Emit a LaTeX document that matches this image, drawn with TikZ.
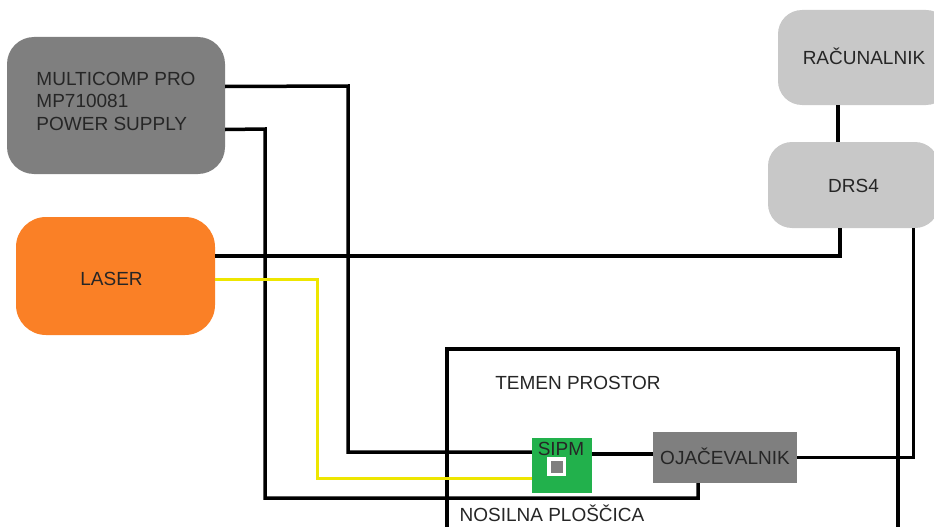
\documentclass[tikz,border=0pt]{standalone}
\usepackage{fontspec}
\setmainfont{Liberation Sans}

\definecolor{psugray}{RGB}{127,127,127}
\definecolor{pcgray}{RGB}{200,200,200}
\definecolor{laserorange}{RGB}{250,128,38}
\definecolor{boardgreen}{RGB}{34,177,76}
\definecolor{fibreyellow}{RGB}{238,230,0}

\begin{document}
\begin{tikzpicture}[
    x=1pt, y=-1pt,
    every node/.style={
        font=\fontsize{19}{22.5}\selectfont,
        text=black!85,
        inner sep=0pt,
        text height=13.7pt,
        text depth=0pt
    },
    device/.style={
        rectangle,
        rounded corners=#1
    },
    wire/.style={
        line width=3.5pt,
        black
    },
    fibre/.style={
        line width=3pt,
        fibreyellow
    },
    wall/.style={
        line width=4pt,
        black
    }
]
\useasboundingbox (0,0) rectangle (934,527);
\clip (0,0) rectangle (934,527);

% Sources
\node[device=27pt, fill=psugray, minimum width=218pt, minimum height=137pt,
      align=left, text height=, text depth=9pt] (psu) at (116,105.5)
    {MULTICOMP PRO\\MP710081\\POWER SUPPLY};
\node[device=30pt, fill=laserorange, minimum width=199pt, minimum height=118pt,
      text height=19.7pt] (laser) at (115.5,276) {LASER\hspace*{8pt}};

% Readout
\node[device=24pt, fill=pcgray, minimum width=172pt, minimum height=95pt] (pc) at (864,57.5) {RAČUNALNIK};
\node[device=24pt, fill=pcgray, minimum width=171pt, minimum height=86pt,
      text height=15.7pt] (drs) at (853.5,185) {DRS4};

% Dark room
\draw[wall] (447,540) |- (898,349) -- (898,540);
\node (room) at (578,382.5) {TEMEN PROSTOR};
\node (board) at (552,515) {NOSILNA PLOŠČICA};

\node[rectangle, fill=boardgreen, minimum width=60pt, minimum height=55pt] (sipm) at (562,465.5) {};
\node[anchor=north] (sipmlabel) at (561,442) {SIPM};
\node[rectangle, fill=psugray, draw=white, line width=3.5pt, minimum size=15.5pt] (die) at (556.5,466.5) {};
\node[rectangle, fill=psugray, minimum width=144pt, minimum height=51pt] (amp) at (725,457.5) {OJAČEVALNIK};

% Wires
\draw[wire] ([yshift=19pt]psu.east) -- (348,86) -- (348,452) -- (sipm.west |- 0,452);
\draw[wire] ([yshift=-24pt]psu.east) -- (265,129) -- (265,498) -| ([xshift=-27pt]amp.south);
\draw[wire] ([yshift=20pt]laser.east) -- (840,256) -- ([xshift=-13.5pt]drs.south);
\draw[fibre] ([yshift=-3pt]laser.east) -- (317,279) -- (317,478) -- (sipm.west |- 0,478);

\draw[wire] ([xshift=-26pt]pc.south) -- ([xshift=-26pt]pc.south |- drs.north);
\draw[wire] ([xshift=60pt]drs.south) |- (amp.east);
\draw[wire] (sipm.east |- 0,454) -- (amp.west |- 0,454);

\end{tikzpicture}
\end{document}
